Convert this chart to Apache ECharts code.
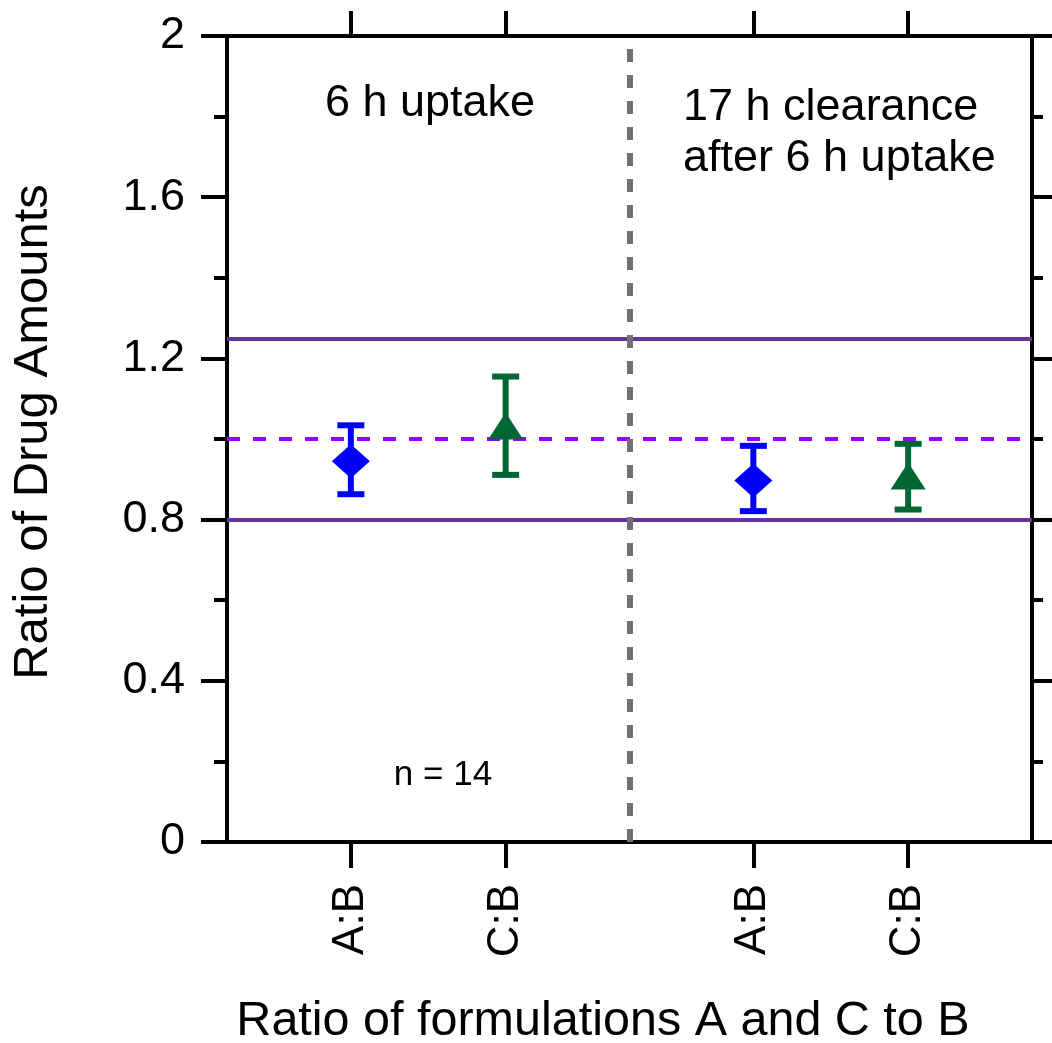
<!DOCTYPE html>
<html>
<head>
<meta charset="utf-8">
<script src="https://cdn.jsdelivr.net/npm/echarts@6/dist/echarts.min.js"></script>
<style>
html,body{margin:0;padding:0;background:#fff;}
#chart{width:1052px;height:1043px;}
</style>
</head>
<body>
<div id="chart"></div>
<script>
// ---- data ----
const pairLabels = ['A:B', 'C:B', 'A:B', 'C:B'];
const xPositions = [0.8, 1.8, 3.4, 4.4];
const meanRatio = [0.945, 1.032, 0.897, 0.908];
const upperBar = [1.034, 1.155, 0.983, 0.988];
const lowerBar = [0.863, 0.911, 0.821, 0.825];
const yTicks = [0, 0.4, 0.8, 1.2, 1.6, 2];
const limitLines = [0.8, 1.25];
const unityLine = [1.0];
const dividerX = [2.6];
const phaseLabels = ['6 h uptake', '17 h clearance', 'after 6 h uptake'];
const nLabel = ['n = 14'];

const FONT = "'Liberation Sans', Arial, Helvetica, sans-serif";
const colorOf = { 'A:B': '#0000ff', 'C:B': '#006633' };
const symbolOf = { 'A:B': 'diamond', 'C:B': 'triangle' };
const sizeOf = { 'A:B': [38, 34], 'C:B': [35, 27] };

function pointsFor(label) {
  const out = [];
  for (let i = 0; i < pairLabels.length; i++) if (pairLabels[i] === label) out.push([xPositions[i], meanRatio[i]]);
  return out;
}
function barsFor(label) {
  const out = [];
  for (let i = 0; i < pairLabels.length; i++) if (pairLabels[i] === label) out.push([xPositions[i], lowerBar[i], upperBar[i]]);
  return out;
}
const labelAt = {};
xPositions.forEach((x, i) => { labelAt[x.toFixed(2)] = pairLabels[i]; });

function errorBarSeries(label) {
  return {
    type: 'custom',
    xAxisIndex: 0, yAxisIndex: 0,
    z: 5,
    data: barsFor(label),
    encode: { x: 0, y: [1, 2] },
    renderItem: function (params, api) {
      const x = api.value(0);
      const lo = api.coord([x, api.value(1)]);
      const hi = api.coord([x, api.value(2)]);
      const hw = 13.5;
      const st = { stroke: colorOf[label], lineWidth: 6 };
      return {
        type: 'group',
        children: [
          { type: 'line', shape: { x1: lo[0], y1: lo[1], x2: hi[0], y2: hi[1] }, style: st },
          { type: 'line', shape: { x1: lo[0] - hw, y1: lo[1], x2: lo[0] + hw, y2: lo[1] }, style: st },
          { type: 'line', shape: { x1: hi[0] - hw, y1: hi[1], x2: hi[0] + hw, y2: hi[1] }, style: st }
        ]
      };
    }
  };
}
function markerSeries(label) {
  return {
    type: 'scatter',
    xAxisIndex: 0, yAxisIndex: 0,
    z: 6,
    symbol: symbolOf[label],
    symbolSize: sizeOf[label],
    itemStyle: { color: colorOf[label], opacity: 1 },
    data: pointsFor(label)
  };
}

const chart = echarts.init(document.getElementById('chart'), null, { renderer: 'canvas' });
const option = {
  backgroundColor: '#ffffff',
  animation: false,
  textStyle: { fontFamily: FONT },
  grid: { left: 227, right: 20, top: 36, bottom: 201, containLabel: false },
  xAxis: [
    {
      type: 'value', position: 'bottom', min: 0, max: 5.2,
      splitLine: { show: false },
      axisLine: { show: true, onZero: false, lineStyle: { color: '#000', width: 4 } },
      axisTick: { show: true, inside: false, length: 26, customValues: xPositions, lineStyle: { color: '#000', width: 4 } },
      minorTick: { show: false },
      axisLabel: {
        show: true, customValues: xPositions, rotate: 90, margin: 42,
        color: '#000', fontSize: 44, fontFamily: FONT,
        formatter: function (v) { return labelAt[Number(v).toFixed(2)] || ''; }
      }
    },
    {
      type: 'value', position: 'top', min: 0, max: 5.2,
      splitLine: { show: false },
      axisLine: { show: true, onZero: false, lineStyle: { color: '#000', width: 4 } },
      axisTick: { show: true, inside: false, length: 25, customValues: xPositions, lineStyle: { color: '#000', width: 4 } },
      axisLabel: { show: false }
    }
  ],
  yAxis: [
    {
      type: 'value', position: 'left', min: 0, max: 2, interval: 0.4,
      splitLine: { show: false },
      axisLine: { show: true, onZero: false, lineStyle: { color: '#000', width: 4 } },
      axisTick: { show: true, inside: false, length: 26, lineStyle: { color: '#000', width: 4 } },
      minorTick: { show: true, splitNumber: 2, length: 13, lineStyle: { color: '#000', width: 4 } },
      axisLabel: {
        show: true, margin: 42, color: '#000', fontSize: 45, fontFamily: FONT,
        formatter: function (v) { const t = yTicks.find(y => Math.abs(y - v) < 1e-6); return t === undefined ? '' : String(t); }
      }
    },
    {
      type: 'value', position: 'right', min: 0, max: 2, interval: 0.4,
      splitLine: { show: false },
      axisLine: { show: true, onZero: false, lineStyle: { color: '#000', width: 4 } },
      axisTick: { show: true, inside: false, length: 20, lineStyle: { color: '#000', width: 4 } },
      minorTick: { show: true, splitNumber: 2, length: 11, lineStyle: { color: '#000', width: 4 } },
      axisLabel: { show: false }
    }
  ],
  series: [
    {
      type: 'line', xAxisIndex: 0, yAxisIndex: 0, data: [], z: 2,
      markLine: {
        silent: true, symbol: ['none', 'none'], animation: false,
        label: { show: false },
        data: [
          ...limitLines.map(v => ({ yAxis: v, lineStyle: { color: '#663399', width: 4, type: 'solid' } })),
          ...unityLine.map(v => ({ yAxis: v, lineStyle: { color: '#9900ff', width: 4, type: [13, 13] } })),
          ...dividerX.map(v => ({ xAxis: v, lineStyle: { color: '#707070', width: 6, type: [13, 13] } }))
        ]
      }
    },
    errorBarSeries('A:B'),
    errorBarSeries('C:B'),
    markerSeries('A:B'),
    markerSeries('C:B')
  ],
  graphic: [
    { type: 'text', x: 430, y: 104, style: { text: phaseLabels[0], font: '45px ' + FONT, fill: '#000', align: 'center', verticalAlign: 'middle' } },
    { type: 'text', x: 683, y: 108, style: { text: phaseLabels[1], font: '45px ' + FONT, fill: '#000', align: 'left', verticalAlign: 'middle' } },
    { type: 'text', x: 683, y: 159, style: { text: phaseLabels[2], font: '45px ' + FONT, fill: '#000', align: 'left', verticalAlign: 'middle' } },
    { type: 'text', x: 443, y: 775, style: { text: nLabel[0], font: '35px ' + FONT, fill: '#000', align: 'center', verticalAlign: 'middle' } },
    { type: 'text', x: 33, y: 432, rotation: Math.PI / 2, style: { text: 'Ratio of Drug Amounts', font: '49px ' + FONT, fill: '#000', align: 'center', verticalAlign: 'middle' } },
    { type: 'text', x: 603, y: 1022, style: { text: 'Ratio of formulations A and C to B', font: '48.5px ' + FONT, fill: '#000', align: 'center', verticalAlign: 'middle' } }
  ]
};
chart.setOption(option);
</script>
</body>
</html>
